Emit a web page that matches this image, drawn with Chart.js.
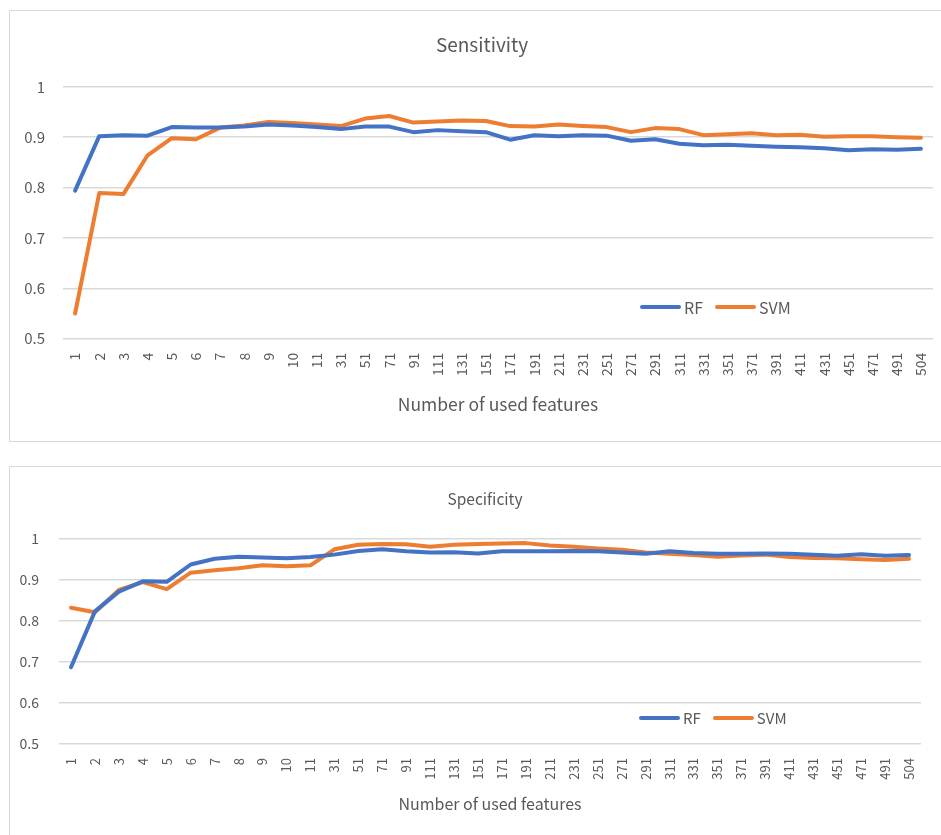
<!DOCTYPE html>
<html>
<head>
<meta charset="utf-8">
<script src="https://cdn.jsdelivr.net/npm/chart.js@4/dist/chart.umd.min.js"></script>
<style>
  html, body { margin: 0; padding: 0; background: #fff; overflow: hidden; width: 941px; height: 835px; }
  .box { position: absolute; left: 9px; width: 950px; border: 1px solid #d9d9d9; background: #fff; overflow: hidden; }
  #box1 { top: 10px; height: 430px; }
  #box2 { top: 466px; height: 380px; }
  canvas { display: block; }
  .legend { position: absolute; font-family: "Noto Sans CJK KR", "Noto Sans", sans-serif; color: #595959; white-space: nowrap; }
  .legend span { display: inline-block; vertical-align: middle; }
  .legend .sw { width: 41px; height: 4px; border-radius: 2px; margin-right: 3px; }
</style>
</head>
<body>
<div class="box" id="box1">
  <canvas id="sens" width="944" height="430"></canvas>
  <div class="legend" id="leg1" style="left:630px; top:281px; font-size:16px;"></div>
</div>
<div class="box" id="box2">
  <canvas id="spec" width="950" height="380"></canvas>
  <div class="legend" id="leg2" style="left:629px; top:238px; font-size:15px;"></div>
</div>
<script>
// --- datos ---
const categories = ['1', '2', '3', '4', '5', '6', '7', '8', '9', '10', '11',
  '31', '51', '71', '91', '111', '131', '151', '171', '191', '211', '231', '251',
  '271', '291', '311', '331', '351', '371', '391', '411', '431', '451', '471', '491', '504'];

const sensRF = [0.794, 0.902, 0.904, 0.903, 0.920, 0.919, 0.919, 0.921, 0.925, 0.923, 0.920,
  0.916, 0.921, 0.921, 0.910, 0.914, 0.912, 0.910, 0.895, 0.904, 0.902, 0.904, 0.903,
  0.893, 0.896, 0.887, 0.884, 0.885, 0.883, 0.881, 0.880, 0.878, 0.874, 0.876, 0.875, 0.877];
const sensSVM = [0.550, 0.789, 0.787, 0.864, 0.898, 0.896, 0.919, 0.923, 0.930, 0.928, 0.925,
  0.922, 0.937, 0.942, 0.929, 0.931, 0.933, 0.932, 0.922, 0.921, 0.925, 0.922, 0.920,
  0.910, 0.918, 0.916, 0.904, 0.906, 0.908, 0.904, 0.905, 0.901, 0.902, 0.902, 0.900, 0.899];

const specRF = [0.687, 0.823, 0.871, 0.896, 0.895, 0.937, 0.951, 0.956, 0.954, 0.952, 0.955,
  0.961, 0.970, 0.974, 0.969, 0.966, 0.967, 0.964, 0.969, 0.969, 0.969, 0.970, 0.969,
  0.966, 0.963, 0.969, 0.965, 0.963, 0.963, 0.964, 0.963, 0.961, 0.958, 0.962, 0.958, 0.960];
const specSVM = [0.832, 0.821, 0.875, 0.894, 0.877, 0.917, 0.923, 0.928, 0.935, 0.933, 0.935,
  0.974, 0.985, 0.987, 0.986, 0.980, 0.985, 0.987, 0.988, 0.989, 0.983, 0.980, 0.976,
  0.973, 0.966, 0.963, 0.960, 0.956, 0.959, 0.961, 0.955, 0.953, 0.952, 0.950, 0.948, 0.951];

const yTicks = [0.5, 0.6, 0.7, 0.8, 0.9, 1];
const seriesNames = ['RF', 'SVM'];
const colores = ['#4472C4', '#ED7D31'];

const FONT = '"Noto Sans CJK KR", "Noto Sans", sans-serif';
const GRIS = '#595959';

function crearGrafico(id, titulo, rf, svm, cfg) {
  const ctx = document.getElementById(id).getContext('2d');
  return new Chart(ctx, {
    type: 'line',
    data: {
      labels: categories,
      datasets: [
        { label: seriesNames[0], data: rf, borderColor: colores[0], backgroundColor: colores[0] },
        { label: seriesNames[1], data: svm, borderColor: colores[1], backgroundColor: colores[1] }
      ]
    },
    options: {
      responsive: false,
      animation: false,
      layout: { padding: { left: 0, right: 0, top: 0, bottom: cfg.padBottom } },
      elements: {
        line: { borderWidth: 4, tension: 0, borderCapStyle: 'round', borderJoinStyle: 'round' },
        point: { radius: 0, hoverRadius: 0 }
      },
      plugins: {
        legend: { display: false },
        tooltip: { enabled: false },
        title: {
          display: true,
          text: titulo,
          color: GRIS,
          font: { family: FONT, size: cfg.titleSize, weight: 'normal' },
          padding: { top: cfg.titleTop, bottom: cfg.titleBottom }
        }
      },
      scales: {
        x: {
          offset: true,
          grid: { display: false },
          border: { display: false },
          ticks: {
            color: GRIS,
            font: { family: FONT, size: cfg.tickSize },
            minRotation: 90, maxRotation: 90,
            autoSkip: false,
            padding: 6
          },
          title: {
            display: true,
            text: 'Number of used features',
            color: GRIS,
            font: { family: FONT, size: cfg.axisTitleSize },
            padding: { top: cfg.axisTitleTop, bottom: 0 }
          }
        },
        y: {
          min: 0.5, max: 1,
          afterBuildTicks: axis => { axis.ticks = yTicks.map(v => ({ value: v })); },
          afterFit: axis => { axis.width = cfg.yWidth; },
          grid: { color: '#d9d9d9', lineWidth: 1.5, drawTicks: false },
          border: { display: false },
          ticks: {
            color: GRIS,
            font: { family: FONT, size: cfg.tickSize + 1 },
            padding: cfg.yPad,
            callback: v => String(Number(v.toFixed(1)))
          }
        },
        // eje vacío a la derecha, solo reserva espacio
        margen: {
          position: 'right',
          min: 0, max: 1,
          grid: { display: false },
          border: { display: false },
          ticks: { display: false },
          afterFit: axis => { axis.width = cfg.rightSpace; }
        }
      }
    }
  });
}

function pintarLeyenda(id) {
  const el = document.getElementById(id);
  el.innerHTML = seriesNames.map((n, i) =>
    `<span class="sw" style="background:${colores[i]}"></span><span style="margin-right:12px">${n}</span>`
  ).join('');
}

crearGrafico('sens', 'Sensitivity', sensRF, sensSVM, {
  yWidth: 53, rightSpace: 21, padBottom: 26,
  titleSize: 19, titleTop: 22, titleBottom: 31,
  tickSize: 14, axisTitleSize: 17.5, axisTitleTop: 12, yPad: 18
});
crearGrafico('spec', 'Specificity', specRF, specSVM, {
  yWidth: 49, rightSpace: 39, padBottom: 33,
  titleSize: 15.5, titleTop: 23, titleBottom: 30,
  tickSize: 13, axisTitleSize: 16, axisTitleTop: 9, yPad: 20
});
pintarLeyenda('leg1');
pintarLeyenda('leg2');
</script>
</body>
</html>
